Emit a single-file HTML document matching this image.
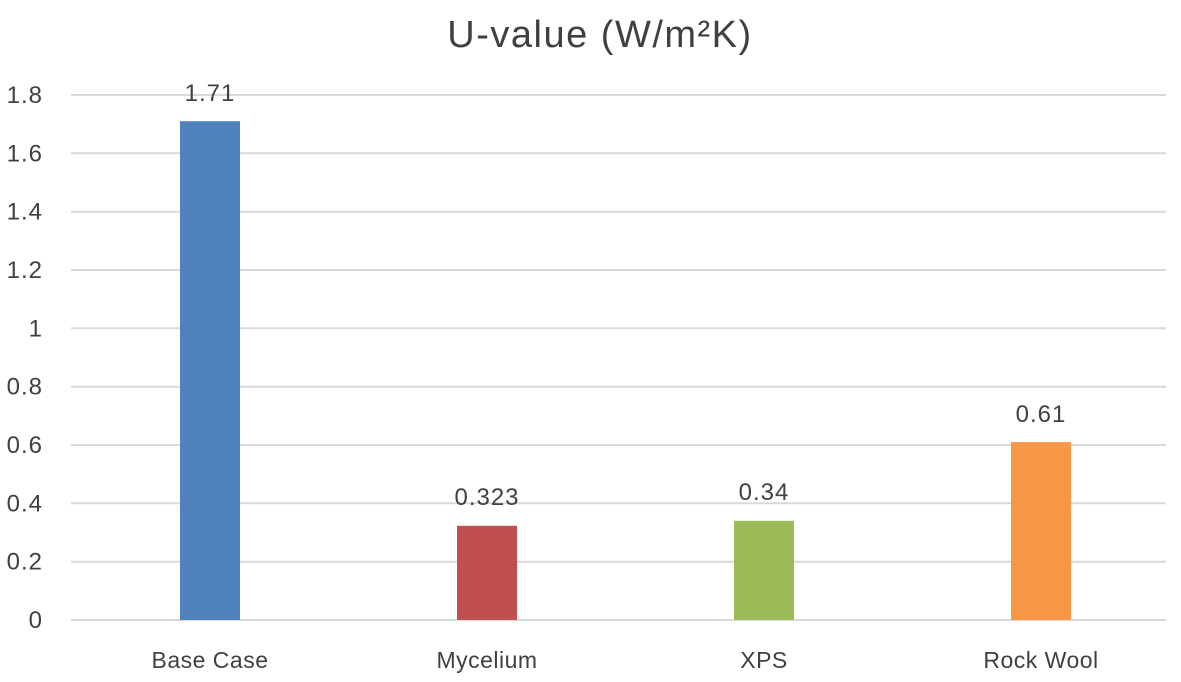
<!DOCTYPE html>
<html><head><meta charset="utf-8"><style>
html,body{margin:0;padding:0;background:#fff;}
svg text{font-family:"Liberation Sans",sans-serif;fill:#404040;}
</style></head><body>
<svg width="1181" height="677" viewBox="0 0 1181 677" xmlns="http://www.w3.org/2000/svg">
<rect width="1181" height="677" fill="#fff"/>
<text x="600" y="47" font-size="38" letter-spacing="1.5" text-anchor="middle">U-value (W/m²K)</text>
<g stroke="#d9d9d9" stroke-width="2">
<line x1="71" x2="1166" y1="95" y2="95"/>
<line x1="71" x2="1166" y1="153.3" y2="153.3"/>
<line x1="71" x2="1166" y1="211.7" y2="211.7"/>
<line x1="71" x2="1166" y1="270" y2="270"/>
<line x1="71" x2="1166" y1="328.3" y2="328.3"/>
<line x1="71" x2="1166" y1="386.7" y2="386.7"/>
<line x1="71" x2="1166" y1="445" y2="445"/>
<line x1="71" x2="1166" y1="503.3" y2="503.3"/>
<line x1="71" x2="1166" y1="561.7" y2="561.7"/>
<line x1="71" x2="1166" y1="620" y2="620"/>
</g>
<g font-size="24" letter-spacing="1" text-anchor="end">
<text x="43" y="103">1.8</text>
<text x="43" y="161.3">1.6</text>
<text x="43" y="219.7">1.4</text>
<text x="43" y="278">1.2</text>
<text x="43" y="336.3">1</text>
<text x="43" y="394.7">0.8</text>
<text x="43" y="453">0.6</text>
<text x="43" y="511.3">0.4</text>
<text x="43" y="569.7">0.2</text>
<text x="43" y="628">0</text>
</g>
<rect x="180" y="121.2" width="60" height="498.8" fill="#4f81bd"/>
<rect x="457" y="525.8" width="60" height="94.2" fill="#c0504d"/>
<rect x="734" y="520.8" width="60" height="99.2" fill="#9bbb59"/>
<rect x="1011" y="442.1" width="60" height="177.9" fill="#f79646"/>
<g font-size="24" letter-spacing="1" text-anchor="middle">
<text x="210" y="101">1.71</text>
<text x="487" y="505">0.323</text>
<text x="764" y="500">0.34</text>
<text x="1041" y="422">0.61</text>
</g>
<g font-size="23" letter-spacing="0.5" text-anchor="middle">
<text x="210" y="668">Base Case</text>
<text x="487" y="668">Mycelium</text>
<text x="764" y="668">XPS</text>
<text x="1041" y="668">Rock Wool</text>
</g>
</svg>
</body></html>
